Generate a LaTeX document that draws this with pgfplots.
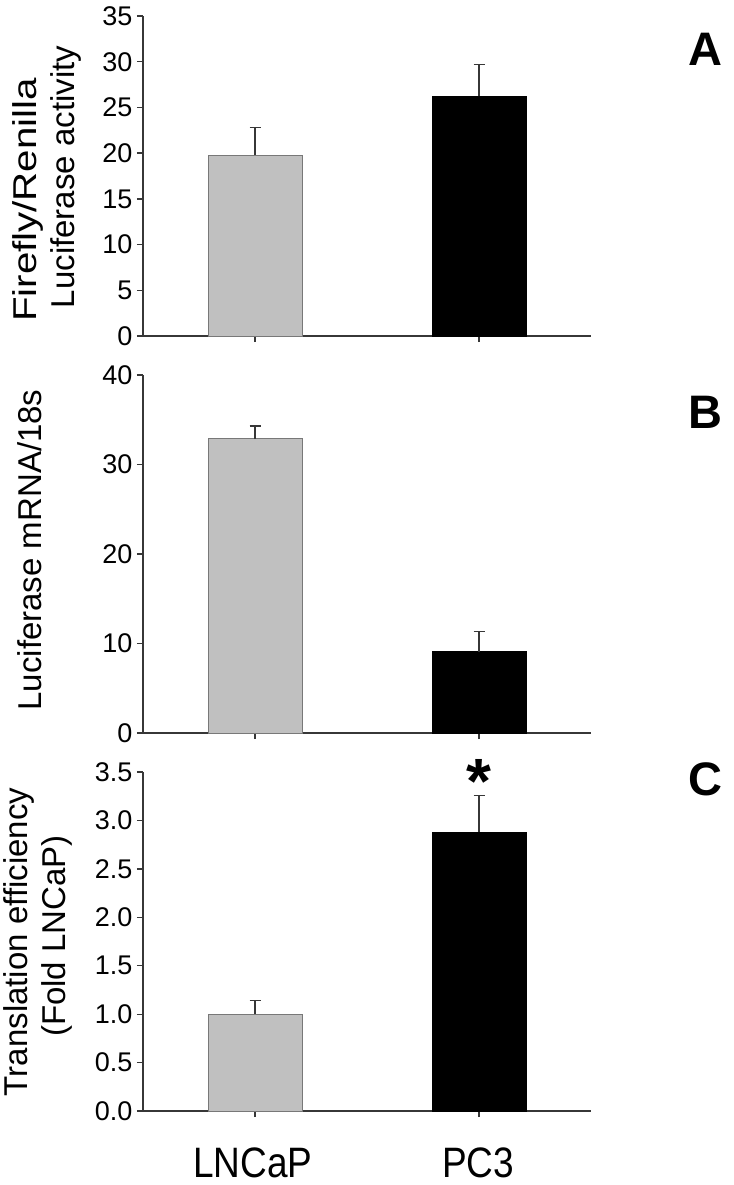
\documentclass[border=0pt]{standalone}
\usepackage{fontspec}
\setmainfont{Liberation Sans}
\usepackage{pgfplots}
\pgfplotsset{compat=1.18}
\definecolor{barg}{RGB}{192,192,192}
\definecolor{bare}{RGB}{120,120,120}
\definecolor{axc}{RGB}{55,55,55}

\pgfplotsset{panel/.style={
  scale only axis, width=448pt,
  xmin=-0.5, xmax=1.5, ymin=0,
  axis x line*=bottom, axis y line*=left,
  axis line style={axc, line width=1.3pt},
  xtick={0,1}, xticklabels={},
  tick style={axc, line width=1.3pt}, tick align=outside, major tick length=6pt,
  minor tick num=0,
  /pgf/number format/assume math mode=true,
  yticklabel style={font=\fontsize{27}{30}\selectfont, xshift=-1pt},
  ybar, bar width=0.42, bar shift=0pt,
  error bars/y dir=plus, error bars/y explicit,
  error bars/error bar style={line width=1.1pt, axc},
  error bars/error mark options={rotate=90, mark size=5.5pt, line width=1.1pt, axc},
}}

\begin{document}
\begin{tikzpicture}
\useasboundingbox (-143pt,0pt) rectangle (590pt,-1185pt);

% A
\begin{axis}[panel, at={(0pt,-336pt)}, anchor=south west, height=320pt,
  ymax=35, ytick={0,5,...,35}]
 \addplot[fill=barg, draw=bare, line width=0.8pt] coordinates {(0,19.8) +- (0,3.0)};
 \addplot[fill=black, draw=black] coordinates {(1,26.2) +- (0,3.5)};
\end{axis}

% B
\begin{axis}[panel, at={(0pt,-733pt)}, anchor=south west, height=358pt,
  ymax=40, ytick={0,10,...,40}]
 \addplot[fill=barg, draw=bare, line width=0.8pt] coordinates {(0,32.9) +- (0,1.4)};
 \addplot[fill=black, draw=black] coordinates {(1,9.1) +- (0,2.2)};
\end{axis}

% C
\begin{axis}[panel, at={(0pt,-1111pt)}, anchor=south west, height=339pt,
  ymax=3.5, ytick={0,0.5,...,3.5}, clip=false,
  yticklabel style={/pgf/number format/.cd, fixed, fixed zerofill, precision=1}]
 \addplot[fill=barg, draw=bare, line width=0.8pt] coordinates {(0,1.0) +- (0,0.14)};
 \addplot[fill=black, draw=black] coordinates {(1,2.88) +- (0,0.38)};
 \node[anchor=base, font=\fontsize{64}{64}\selectfont\bfseries] at (axis cs:1,3.18) {*};
\end{axis}

% y labels
\begin{scope}[every node/.style={rotate=90, anchor=base, font=\fontsize{33}{35}\selectfont}]
 \node at (-106pt,-200pt) {\scalebox{1.22}[1]{Firefly/Renilla}};
 \node at (-68pt,-177pt) {Luciferase activity};
 \node at (-101pt,-550pt) {Luciferase mRNA/18s};
 \node at (-115pt,-942pt) {Translation efficiency};
 \node at (-77pt,-936pt) {(Fold LNCaP)};
\end{scope}

% category labels
\node[anchor=base, font=\fontsize{37}{40}\selectfont] at (110pt,-1177pt) {\scalebox{1}[1.15]{LNCaP}};
\node[anchor=base, font=\fontsize{37}{40}\selectfont] at (335pt,-1177pt) {\scalebox{1}[1.15]{PC3}};

% panel letters
\node[anchor=base, font=\fontsize{47}{47}\selectfont\bfseries] at (562pt,-66pt) {A};
\node[anchor=base, font=\fontsize{47}{47}\selectfont\bfseries] at (562pt,-428pt) {B};
\node[anchor=base, font=\fontsize{47}{47}\selectfont\bfseries] at (562pt,-795pt) {C};
\end{tikzpicture}
\end{document}
